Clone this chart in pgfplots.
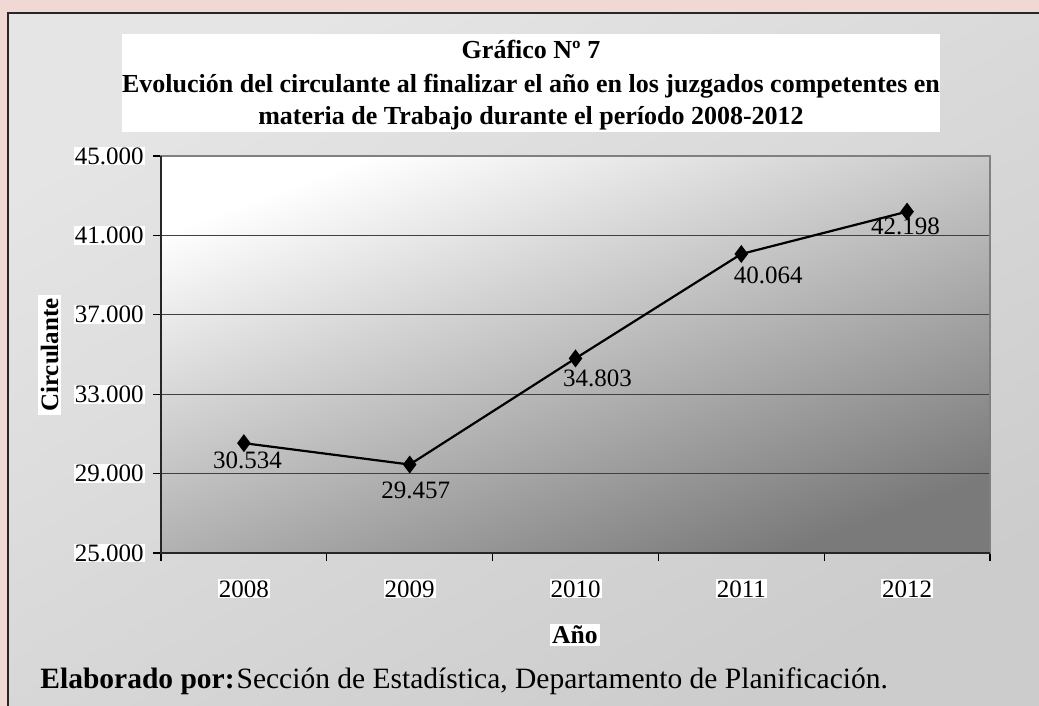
\documentclass[border=0pt]{standalone}
\usepackage{fontspec}
\setmainfont{Liberation Serif}
\usepackage{pgfplots}
\usepackage{pgfplotstable}
\pgfplotsset{compat=1.18}
\definecolor{pinkbg}{RGB}{240,216,212}
\definecolor{frameA}{RGB}{229,229,229}
\definecolor{frameB}{RGB}{204,204,204}
\pgfplotstableread{
x y dx dy
0 30534 1.75 8.5
1 29457 3 13
2 34803 11 10
3 40064 13.5 10.5
4 42198 -0.75 7.5
}\data
\begin{document}
\begin{tikzpicture}
\useasboundingbox (0,0) rectangle (519.5pt,-353pt);
\clip (0,0) rectangle (519.5pt,-353pt);
\begin{scope}[x=0.5pt,y=-0.5pt]
\fill[pinkbg] (0,0) rectangle (1039,706);
\shade[top color=frameA, bottom color=frameB, shading angle=30] (8,13) rectangle (1045,712);
\draw[black!85, line width=0.9pt] (1045,13) -- (8,13) -- (8,712);
\fill[white] (122,34) rectangle (940,132);
\node[anchor=base, font=\fontsize{13}{16}\selectfont\bfseries, inner sep=0pt] at (531,59) {Gráfico Nº 7};
\node[anchor=base, font=\fontsize{13}{16}\selectfont\bfseries, inner sep=0pt] at (531,92.7) {Evolución del circulante al finalizar el año en los juzgados competentes en};
\node[anchor=base, font=\fontsize{13}{16}\selectfont\bfseries, inner sep=0pt] at (531,125) {materia de Trabajo durante el período 2008-2012};
\node[rotate=90, fill=white, inner sep=1.5pt, font=\fontsize{12.5}{14}\selectfont\bfseries] at (49.5,355) {Circulante};
\node[fill=white, inner sep=1pt, font=\fontsize{12.8}{14}\selectfont\bfseries] at (575,635) {Año};
\node[anchor=base west, inner sep=0pt, font=\fontsize{14.75}{17}\selectfont] at (40,688) {\textbf{Elaborado por:}\hspace{1pt}Sección de Estadística, Departamento de Planificación.};
\end{scope}
\begin{axis}[
  at={(80.5pt,-276.5pt)}, anchor=south west,
  scale only axis, width=414.5pt, height=198.5pt,
  xmin=-0.5, xmax=4.5, ymin=25000, ymax=45000,
  xtick={-0.5,0.5,...,4.5}, x tick label as interval,
  xticklabels={2008,2009,2010,2011,2012},
  ytick={25000,29000,...,45000},
  scaled y ticks=false,
  yticklabel={\pgfmathprintnumber[fixed,precision=0]{\tick}},
  xtick pos=bottom, ytick pos=left,
  tick align=outside, major tick length=4pt,
  tick style={black, line width=0.6pt},
  ymajorgrids, grid style={black!75, line width=0.5pt},
  axis line style={black!50, line width=1pt},
  axis background/.style={top color=white, bottom color=black!52, shading angle=20},
  every tick label/.append style={fill=white, inner sep=0.5pt, font=\fontsize{12.5}{14}\selectfont},
  xticklabel style={yshift=-9pt},
  yticklabel style={xshift=-4pt},
  /pgf/number format/1000 sep={.},
  /pgf/number format/assume math mode=true,
  after end axis/.code={\draw[black!85, line width=0.9pt] (rel axis cs:0,1) -- (rel axis cs:0,0) -- (rel axis cs:1,0);},
]
\addplot[black, line width=1.1pt, mark=diamond*, mark size=3.6pt,
  visualization depends on={\thisrow{dx}\as\dx},
  visualization depends on={\thisrow{dy}\as\dy},
  nodes near coords,
  every node near coord/.append style={anchor=center, xshift=\dx pt, yshift=-\dy pt, font=\fontsize{12.5}{14}\selectfont, text=black, inner sep=0pt},
] table[x=x, y=y] {\data};
\end{axis}
\end{tikzpicture}
\end{document}
